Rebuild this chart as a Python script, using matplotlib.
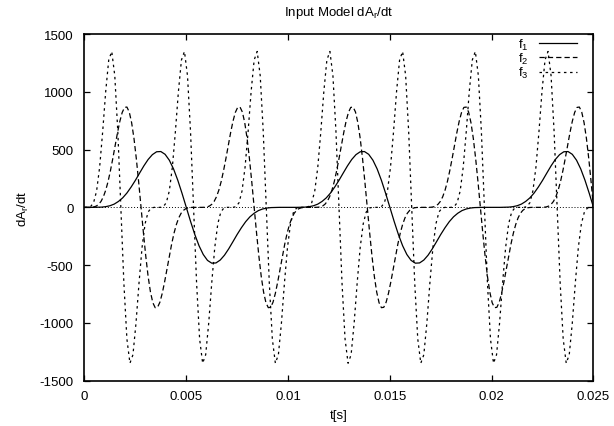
import numpy as np
import matplotlib
matplotlib.use("Agg")
import matplotlib.pyplot as plt

plt.rcParams['font.family'] = ['Liberation Sans', 'DejaVu Sans']
plt.rcParams['mathtext.default'] = 'regular'
plt.rcParams['lines.scale_dashes'] = False
plt.rcParams['axes.unicode_minus'] = False

f1_values = [
    0, 0, 0, 1, 2, 6, 14, 28, 51, 82, 124, 176, 234, 297, 359, 414, 456, 481, 483, 459, 408, 332, 234, 121,
    0, -121, -234, -332, -408, -459, -483, -481, -456, -414, -359, -297, -234, -176, -124, -82, -51, -28, -14, -6, -2, -1, 0, 0,
    0, 0, 0, 1, 2, 6, 14, 28, 51, 82, 124, 176, 234, 297, 359, 414, 456, 481, 483, 459, 408, 332, 234, 121,
    0, -121, -234, -332, -408, -459, -483, -481, -456, -414, -359, -297, -234, -176, -124, -82, -51, -28, -14, -6, -2, -1, 0, 0,
    0, 0, 0, 1, 2, 6, 14, 28, 51, 82, 124, 176, 234, 297, 359, 414, 456, 481, 483, 459, 408, 332, 234, 121,
    0,
]
f2_values = [
    0, 0, 0, 1, 4, 11, 26, 51, 91, 148, 223, 316, 421, 534, 645, 744, 821, 865, 868, 825, 733, 597, 421, 218,
    0, -218, -421, -597, -733, -825, -868, -865, -821, -744, -645, -534, -421, -316, -223, -148, -91, -51, -26, -11, -4, -1, 0, 0,
    0, 0, 0, 1, 4, 11, 26, 51, 91, 148, 223, 316, 421, 534, 645, 744, 821, 865, 868, 825, 733, 597, 421, 218,
    0, -218, -421, -597, -733, -825, -868, -865, -821, -744, -645, -534, -421, -316, -223, -148, -91, -51, -26, -11, -4, -1, 0, 0,
    0, 0, 0, 1, 4, 11, 26, 51, 91, 148, 223, 316, 421, 534, 645, 744, 821, 865, 868, 825, 733, 597, 421, 218,
    0, -218, -421, -597, -733, -825, -868, -865, -821, -744, -645, -534, -421, -316, -223, -148, -91, -51, -26, -11, -4, -1, 0, 0,
    0, 0, 0, 1, 4, 11, 26, 51, 91, 148, 223, 316, 421, 534, 645, 744, 821, 865, 868, 825, 733, 597, 421, 218,
    0, -218, -421, -597, -733, -825, -868, -865, -821, -744, -645, -534, -421, -316, -223, -148, -91, -51, -26, -11, -4, -1, 0, 0,
    0, 0, 0, 1, 4, 11, 26, 51, 91, 148, 223, 316, 421, 534, 645, 744, 821, 865, 868, 825, 733, 597, 421, 218,
    0,
]
f3_values = [
    0, 0, 6, 40, 142, 347, 654, 1002, 1275, 1349, 1139, 655, 0, -655, -1139, -1349, -1275, -1002, -654, -347, -142, -40, -6, 0,
    0, 0, 6, 40, 142, 347, 654, 1002, 1275, 1349, 1139, 655, 0, -655, -1139, -1349, -1275, -1002, -654, -347, -142, -40, -6, 0,
    0, 0, 6, 40, 142, 347, 654, 1002, 1275, 1349, 1139, 655, 0, -655, -1139, -1349, -1275, -1002, -654, -347, -142, -40, -6, 0,
    0, 0, 6, 40, 142, 347, 654, 1002, 1275, 1349, 1139, 655, 0, -655, -1139, -1349, -1275, -1002, -654, -347, -142, -40, -6, 0,
    0, 0, 6, 40, 142, 347, 654, 1002, 1275, 1349, 1139, 655, 0, -655, -1139, -1349, -1275, -1002, -654, -347, -142, -40, -6, 0,
    0, 0, 6, 40, 142, 347, 654, 1002, 1275, 1349, 1139, 655, 0, -655, -1139, -1349, -1275, -1002, -654, -347, -142, -40, -6, 0,
    0, 0, 6, 40, 142, 347, 654, 1002, 1275, 1349, 1139, 655, 0, -655, -1139, -1349, -1275, -1002, -654, -347, -142, -40, -6, 0,
    0,
]
t_start, t_end = 0.0, 0.025
series_labels = ['f$_1$', 'f$_2$', 'f$_3$']
x_ticks = [0, 0.005, 0.01, 0.015, 0.02, 0.025]
x_tick_labels = ['0', '0.005', '0.01', '0.015', '0.02', '0.025']
y_ticks = [-1500, -1000, -500, 0, 500, 1000, 1500]
title = 'Input Model dA$_r$/dt'
xlabel = 't[s]'
ylabel = 'dA$_r$/dt'

t1 = np.linspace(t_start, t_end, len(f1_values))
t2 = np.linspace(t_start, t_end, len(f2_values))
t3 = np.linspace(t_start, t_end, len(f3_values))

FS = 9.5
fig = plt.figure(figsize=(6.14, 4.27), dpi=100)
ax = fig.add_axes([0.1376, 0.1061, 0.9666 - 0.1376, 0.918 - 0.1061])

ax.axhline(0, color='black', lw=0.7, dashes=(0.7, 1.4), zorder=1)
ax.plot(t1, f1_values, color='black', lw=0.9, label=series_labels[0], zorder=3)
ax.plot(t2, f2_values, color='black', lw=0.9, dashes=(3.8, 2.2), label=series_labels[1], zorder=3)
ax.plot(t3, f3_values, color='black', lw=0.9, dashes=(1.8, 2.6), label=series_labels[2], zorder=3)

ax.set_xlim(t_start, t_end)
ax.set_ylim(-1500, 1500)
ax.set_xticks(x_ticks)
ax.set_xticklabels(x_tick_labels)
ax.set_yticks(y_ticks)
ax.tick_params(direction='in', length=4, width=0.9, top=True, right=True,
               labelsize=FS, colors='black')
ax.tick_params(axis='x', pad=7)
ax.tick_params(axis='y', pad=8)
for s in ax.spines.values():
    s.set_linewidth(1.2)

ax.set_title(title, fontsize=FS, pad=14)
ax.set_xlabel(xlabel, fontsize=FS, labelpad=5)
ax.set_ylabel(ylabel, fontsize=FS, labelpad=6)

ax.legend(loc='upper right', bbox_to_anchor=(0.9676, 0.993), frameon=False,
          markerfirst=False, fontsize=FS, handlelength=2.9, handletextpad=0.75,
          labelspacing=-0.05, borderpad=0, borderaxespad=0)

fig.savefig('out.png', dpi=100)
